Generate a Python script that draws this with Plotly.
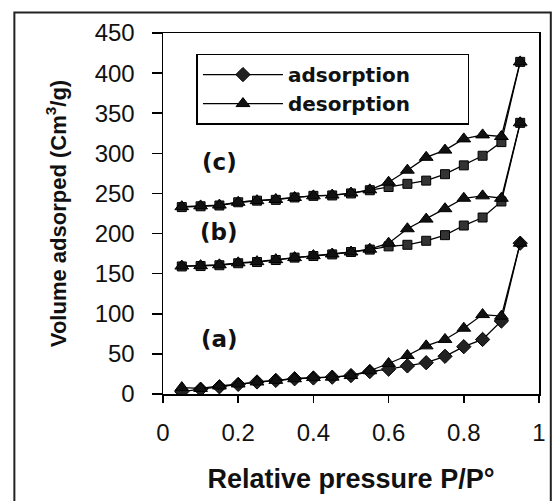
import plotly.graph_objects as go

# Relative pressure P/P0
pressure = [0.05, 0.10, 0.15, 0.20, 0.25, 0.30, 0.35, 0.40, 0.45, 0.50,
            0.55, 0.60, 0.65, 0.70, 0.75, 0.80, 0.85, 0.90, 0.95]

# Sample (a)
a_adsorption = [3, 6, 9, 12, 15, 17, 19, 20, 21, 23, 28, 31, 35, 39, 47, 59, 68, 91, 188]
a_desorption = [8, 7, 10, 12.5, 15, 17, 19, 20.5, 21, 23, 29, 38, 48, 60, 68, 82, 99, 97, 188]

# Sample (b)
b_adsorption = [159, 159.5, 160.5, 163, 164.5, 167, 170, 172, 174, 177, 180, 184, 186, 191, 198, 210, 220, 240, 338]
b_desorption = [159.5, 160, 161, 163.5, 165, 167.5, 170, 172.5, 174.5, 177, 180.5, 188, 206, 218, 231, 244, 247, 244, 338]

# Sample (c)
c_adsorption = [233, 234, 235, 239, 241, 242, 245, 247, 247.5, 250, 254, 258, 262, 266, 274, 285, 297, 314, 414]
c_desorption = [233.5, 234.5, 235.5, 239, 241, 242.5, 245, 247, 248, 250.5, 254.5, 264, 279, 295, 304, 318, 323, 321, 414]

sample_labels = ["(a)", "(b)", "(c)"]
sample_label_pos = [(0.15, 68), (0.15, 202), (0.15, 289)]

x_ticks = [0, 0.2, 0.4, 0.6, 0.8, 1]
x_tick_text = ["0", "0.2", "0.4", "0.6", "0.8", "1"]
y_ticks = [0, 50, 100, 150, 200, 250, 300, 350, 400, 450]

LINE = dict(color="black", width=1.3)
FONT = "Liberation Sans, Arial, sans-serif"

fig = go.Figure()


def add(yvals, symbol, name, show, fill, size):
    fig.add_trace(go.Scatter(
        x=pressure, y=yvals, mode="lines+markers", name=name, showlegend=show,
        line=LINE,
        marker=dict(symbol=symbol, size=size, color=fill,
                    line=dict(color="black", width=1)),
    ))


# Squares for (b),(c) adsorption, diamonds for (a); triangles for desorption
add(c_adsorption, "square", "adsorption", False, "#333333", 9)
add(c_desorption, "triangle-up", "desorption", False, "#111111", 12)
add(b_adsorption, "square", "adsorption", False, "#333333", 9)
add(b_desorption, "triangle-up", "desorption", False, "#111111", 12)
add(a_adsorption, "diamond", "adsorption", True, "#222222", 11)
add(a_desorption, "triangle-up", "desorption", True, "#111111", 12)

for lab, (lx, ly) in zip(sample_labels, sample_label_pos):
    fig.add_annotation(x=lx, y=ly, text=lab, showarrow=False,
                       font=dict(family="DejaVu Sans", size=23, color="#111111", weight="bold"))

# outer frame of the picture
fig.add_shape(type="rect", xref="paper", yref="paper",
              x0=-0.3953, x1=1.0314, y0=-0.3, y1=1.0568,
              line=dict(color="#222222", width=2), layer="above")

fig.update_layout(
    width=558, height=501,
    margin=dict(l=163, r=14, t=33, b=98),
    paper_bgcolor="white", plot_bgcolor="white",
    hovermode=False,
    font=dict(family=FONT, color="#111111"),
    legend=dict(
        orientation="h",
        x=0.089, y=0.943, xanchor="left", yanchor="top",
        bordercolor="black", borderwidth=1.5, bgcolor="white",
        font=dict(family="DejaVu Sans", size=20, color="#111111", weight="bold"),
        itemwidth=80, entrywidth=175, entrywidthmode="pixels",
        tracegroupgap=0,
    ),
)

fig.update_xaxes(
    range=[0, 1], tickvals=x_ticks, ticktext=x_tick_text,
    showgrid=False, zeroline=False,
    showline=True, linecolor="black", linewidth=1.5, mirror=True,
    ticks="outside", ticklen=7, tickwidth=1.5, tickcolor="black",
    tickfont=dict(family=FONT, size=24, color="#111111"),
    ticklabelstandoff=10,
    title=dict(text="Relative pressure P/P°", standoff=24,
               font=dict(family=FONT, size=27, color="#111111", weight="bold")),
)
fig.update_yaxes(
    range=[0, 450], tickvals=y_ticks,
    showgrid=False, zeroline=False,
    showline=True, linecolor="black", linewidth=1.5, mirror=True,
    ticks="outside", ticklen=10, tickwidth=1.5, tickcolor="black",
    tickfont=dict(family=FONT, size=24, color="#111111"),
    ticklabelstandoff=12,
    title=dict(text="Volume adsorped (Cm<sup>3</sup>/g)", standoff=22,
               font=dict(family=FONT, size=22, color="#111111", weight="bold")),
)

# remove the default 8px page margin so the figure sits at the window origin
fig.write_html("out.html",
               config={"displayModeBar": False, "staticPlot": True},
               post_script="document.body.style.margin='0px';document.body.style.overflow='hidden';")
